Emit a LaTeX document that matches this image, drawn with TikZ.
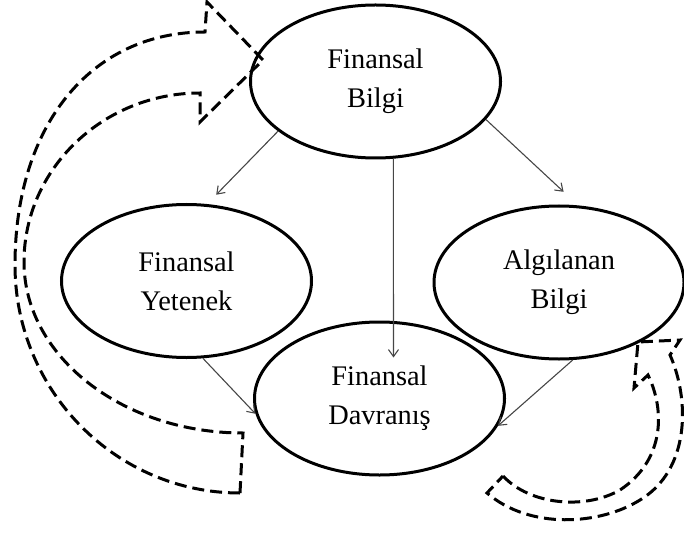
\documentclass[tikz,border=0pt]{standalone}
\usepackage{fontspec}
\setmainfont{Liberation Serif}
\definecolor{linkgray}{RGB}{70,70,70}
\usetikzlibrary{calc, positioning, arrows.meta, shapes.geometric}

\begin{document}
\begin{tikzpicture}[x=1bp, y=-1bp,
    concept/.style={draw, ellipse, line width=3bp, minimum width=250bp, minimum height=153bp,
      inner sep=0pt, align=center, font=\fontsize{28.5}{39}\selectfont},
    link/.style={draw=linkgray, line width=1.1bp, -{Straight Barb[length=7bp,width=10bp]}},
    loopband/.style={draw, line width=3bp, dash pattern=on 12bp off 6bp, line join=miter}]
  \useasboundingbox (0,0) rectangle (684,535);

  \node[concept] (bilgi)    at (375.5,81.5) {Finansal\\Bilgi};
  \node[concept] (yetenek)  at (186.5,281)  {Finansal\\Yetenek};
  \node[concept] (algi)     at (559,282.5)  {Algılanan\\Bilgi};
  \node[concept] (davranis) at (379.5,398.5) {Finansal\\Davranış};

  \path[link, shorten >=13bp] (bilgi.207) -- (yetenek.75);
  \path[link] (bilgi.283) -- ($(davranis.center)+(14,-41)$);
  \path[link, shorten >=20bp] (bilgi.341) -- (algi.76);
  \path[link] (yetenek.282) -- (davranis.187);
  \path[link] (algi.280) -- (davranis.347);

  % feedback bands
  \draw[loopband] (240,493) .. controls (116,493) and (15,391) .. (15,265)
    .. controls (15,125) and (91,32) .. (205,32)
    -- (207,2) -- (263,60) -- (200,122) -- (200,93)
    .. controls (103,93) and (24,169) .. (24,262)
    .. controls (24,356) and (122,433) .. (243,433) -- cycle;
  \draw[loopband] (503,476) .. controls (530,505) and (585,510) .. (620,490)
    .. controls (665,460) and (665,410) .. (648,375)
    -- (634,388) -- (638,342) -- (680,340) -- (670,355)
    .. controls (690,400) and (690,470) .. (640,500)
    .. controls (600,525) and (530,530) .. (487,493) -- cycle;
\end{tikzpicture}
\end{document}
